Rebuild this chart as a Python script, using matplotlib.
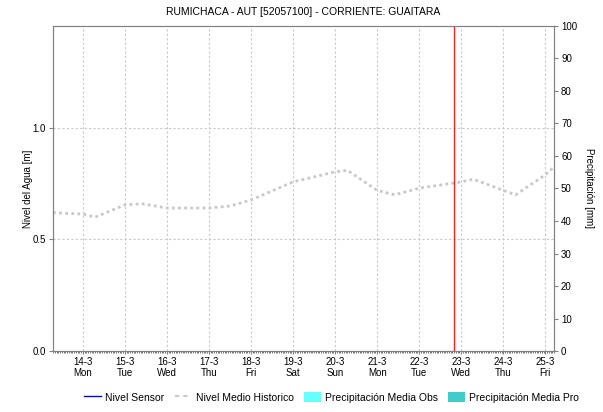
import datetime
import matplotlib
matplotlib.use('Agg')
import matplotlib.pyplot as plt
import matplotlib.dates as mdates
from matplotlib.lines import Line2D
from matplotlib.patches import Patch

plt.rcParams['font.family'] = ['Liberation Sans', 'DejaVu Sans']
plt.rcParams['font.size'] = 7

title = 'RUMICHACA - AUT [52057100] - CORRIENTE: GUAITARA'

# historic mean level (Nivel Medio Historico)
hist_times = ['2022-03-13 07:00', '2022-03-14 00:00', '2022-03-14 07:00', '2022-03-15 00:00',
              '2022-03-15 10:00', '2022-03-16 00:00', '2022-03-17 00:00', '2022-03-17 12:00',
              '2022-03-18 00:00', '2022-03-19 00:00', '2022-03-20 00:00', '2022-03-20 07:00',
              '2022-03-21 00:00', '2022-03-21 10:00', '2022-03-22 00:00', '2022-03-23 00:00',
              '2022-03-23 07:00', '2022-03-24 00:00', '2022-03-24 07:00', '2022-03-25 00:00',
              '2022-03-25 05:00']
hist_level = [0.62, 0.614, 0.60, 0.655, 0.66, 0.641, 0.641, 0.65, 0.677, 0.758, 0.803, 0.81,
              0.72, 0.70, 0.73, 0.758, 0.77, 0.72, 0.70, 0.79, 0.825]

day_ticks = ['2022-03-%02d' % d for d in range(14, 26)]
now_time = '2022-03-22 20:00'

fig = plt.figure(figsize=(6.03, 4.12), dpi=100)
ax = fig.add_axes([0.0879, 0.148, 0.831, 0.789])

hx = [datetime.datetime.strptime(t, '%Y-%m-%d %H:%M') for t in hist_times]
ax.plot(hx, hist_level, color='#c8c8c8', lw=2, linestyle=(0, (1, 1.2)), zorder=3)
ax.axvline(datetime.datetime.strptime(now_time, '%Y-%m-%d %H:%M'), color='#ff2020', lw=1, zorder=4)

ticks = [datetime.datetime.strptime(t, '%Y-%m-%d') for t in day_ticks]
ax.set_xticks(ticks)
ax.set_xticklabels([t.strftime('%-d-%-m') + '\n' + t.strftime('%a') for t in ticks])
ax.xaxis.set_minor_locator(mdates.HourLocator(byhour=range(0, 24, 1)))
ax.set_xlim(datetime.datetime(2022, 3, 13, 7), datetime.datetime(2022, 3, 25, 5))
ax.set_ylim(0, 1.457)
ax.set_yticks([0.0, 0.5, 1.0])
ax.set_yticklabels(['0.0', '0.5', '1.0'])
ax.grid(True, color='#c8c8c8', linestyle=(0, (2, 2)), lw=0.8)
ax.tick_params(axis='x', which='major', length=2, pad=2, color='#808080')
ax.tick_params(axis='x', which='minor', length=1.5, color='#404040', width=0.5)
ax.tick_params(axis='y', length=3, pad=2, color='#808080')
ax.set_ylabel('Nivel del Agua [m]', labelpad=0)
ax.set_title(title, fontsize=7.5, pad=8)
for s in ax.spines.values():
    s.set_color('#808080')

ax2 = ax.twinx()
ax2.set_ylim(0, 100)
ax2.set_yticks(range(0, 101, 10))
ax2.tick_params(axis='y', length=3, pad=2, color='#808080')
ax2.set_ylabel('Precipitación [mm]', rotation=270, labelpad=12)
for s in ax2.spines.values():
    s.set_color('#808080')

handles = [Line2D([], [], color='#0000cc', lw=1),
           Line2D([], [], color='#c8c8c8', lw=1.5, linestyle=(0, (2, 2))),
           Patch(facecolor='#66ffff'),
           Patch(facecolor='#40cccc')]
labels = ['Nivel Sensor', 'Nivel Medio Historico', 'Precipitación Media Obs', 'Precipitación Media Pro']
fig.legend(handles, labels, loc='center', bbox_to_anchor=(0.55, 0.036), ncol=4, frameon=False,
           fontsize=7.5, handlelength=1.6, handletextpad=0.4, columnspacing=1.0, handleheight=1.2)

fig.savefig('out.png', dpi=100)
